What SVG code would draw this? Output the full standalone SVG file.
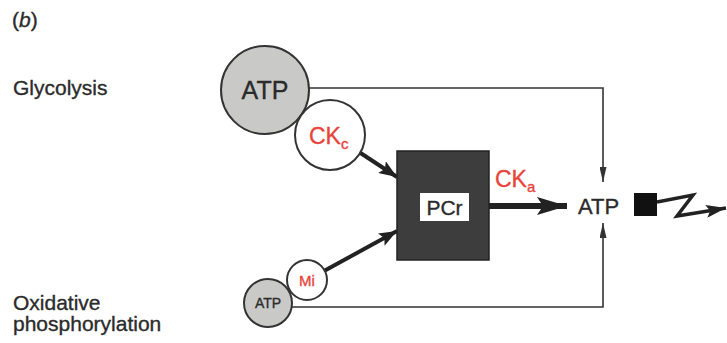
<svg xmlns="http://www.w3.org/2000/svg" width="727" height="343" viewBox="0 0 727 343">
<defs>
<style>
text{font-family:"Liberation Sans",Arial,sans-serif;fill:#2b2b2b;stroke:#2b2b2b;stroke-width:0.35}
.lbl{font-size:21px}
.red{fill:#e8443c;stroke:#e8443c}
.ln{stroke:#333;stroke-width:1.6;fill:none}
.thick{stroke:#222;stroke-width:4;fill:none}
.gc{fill:#c9c9c7;stroke:#333;stroke-width:2}
.wc{fill:#fff;stroke:#333;stroke-width:2}
</style>
<marker id="ah" viewBox="0 0 10 10" preserveAspectRatio="none" refX="10" refY="5" markerWidth="15" markerHeight="7" markerUnits="userSpaceOnUse" orient="auto"><path d="M0,0 L10,5 L0,10 z" fill="#333"/></marker>
<marker id="ahb" viewBox="0 0 10 10" preserveAspectRatio="none" refX="10" refY="5" markerWidth="18" markerHeight="14" markerUnits="userSpaceOnUse" orient="auto"><path d="M0,0 L10,5 L0,10 L2,5 z" fill="#222"/></marker>
<marker id="ahc" viewBox="0 0 10 10" preserveAspectRatio="none" refX="10" refY="5" markerWidth="30" markerHeight="18" markerUnits="userSpaceOnUse" orient="auto"><path d="M0,0 L10,5 L0,10 L2,5 z" fill="#222"/></marker>
<marker id="ahz" viewBox="0 0 10 10" preserveAspectRatio="none" refX="10" refY="5" markerWidth="20" markerHeight="13" markerUnits="userSpaceOnUse" orient="auto"><path d="M0,0 L10,5 L0,10 L2,5 z" fill="#222"/></marker>
</defs>
<rect width="727" height="343" fill="#fff"/>
<g id="labels">
<text x="12" y="27" class="lbl">(<tspan font-style="italic">b</tspan>)</text>
<text x="13" y="95" class="lbl">Glycolysis</text>
<text x="13" y="310" class="lbl">Oxidative</text>
<text x="13" y="331" class="lbl">phosphorylation</text>
</g>
<g id="connectors">
<polyline class="ln" points="309,88 603,88 603,182" marker-end="url(#ah)"/>
<polyline class="ln" points="291,307 603,307 603,223" marker-end="url(#ah)"/>
<line class="thick" x1="359" y1="152" x2="397" y2="177" marker-end="url(#ahb)"/>
<line class="thick" x1="324" y1="271" x2="397" y2="231" marker-end="url(#ahb)"/>
<line x1="489" y1="206" x2="567" y2="206" stroke="#222" stroke-width="6" marker-end="url(#ahc)"/>
<polyline points="657,202 693,195 677,216 708,211 726,208" stroke="#222" stroke-width="3.5" fill="none" stroke-linejoin="miter" marker-end="url(#ahz)"/>
</g>
<g id="atp-glyc">
<circle class="gc" cx="265" cy="90" r="44"/>
<text x="265" y="99" font-size="25" text-anchor="middle">ATP</text>
</g>
<g id="ckc">
<circle class="wc" cx="330" cy="135" r="35"/>
<text x="309" y="144" font-size="23" class="red">CK<tspan font-size="15" dy="5">c</tspan></text>
</g>
<g id="pcr">
<rect x="397" y="151" width="92" height="109" fill="#3d3d3d" stroke="#222" stroke-width="1.5"/>
<rect x="420" y="193" width="49" height="28" fill="#fff"/>
<text x="444.5" y="215" font-size="21" text-anchor="middle">PCr</text>
</g>
<g id="cka">
<text x="495" y="187" font-size="23" class="red">CK<tspan font-size="15" dy="5">a</tspan></text>
</g>
<g id="atp-out">
<text x="578" y="214" font-size="22">ATP</text>
<rect x="634" y="193" width="23" height="23" fill="#111"/>
</g>
<g id="atp-ox">
<circle class="gc" cx="268" cy="303" r="24"/>
<text x="268" y="308" font-size="14" text-anchor="middle">ATP</text>
</g>
<g id="mi">
<circle class="wc" cx="307" cy="280" r="20"/>
<text x="307" y="286" font-size="15" text-anchor="middle" class="red">Mi</text>
</g>
</svg>
